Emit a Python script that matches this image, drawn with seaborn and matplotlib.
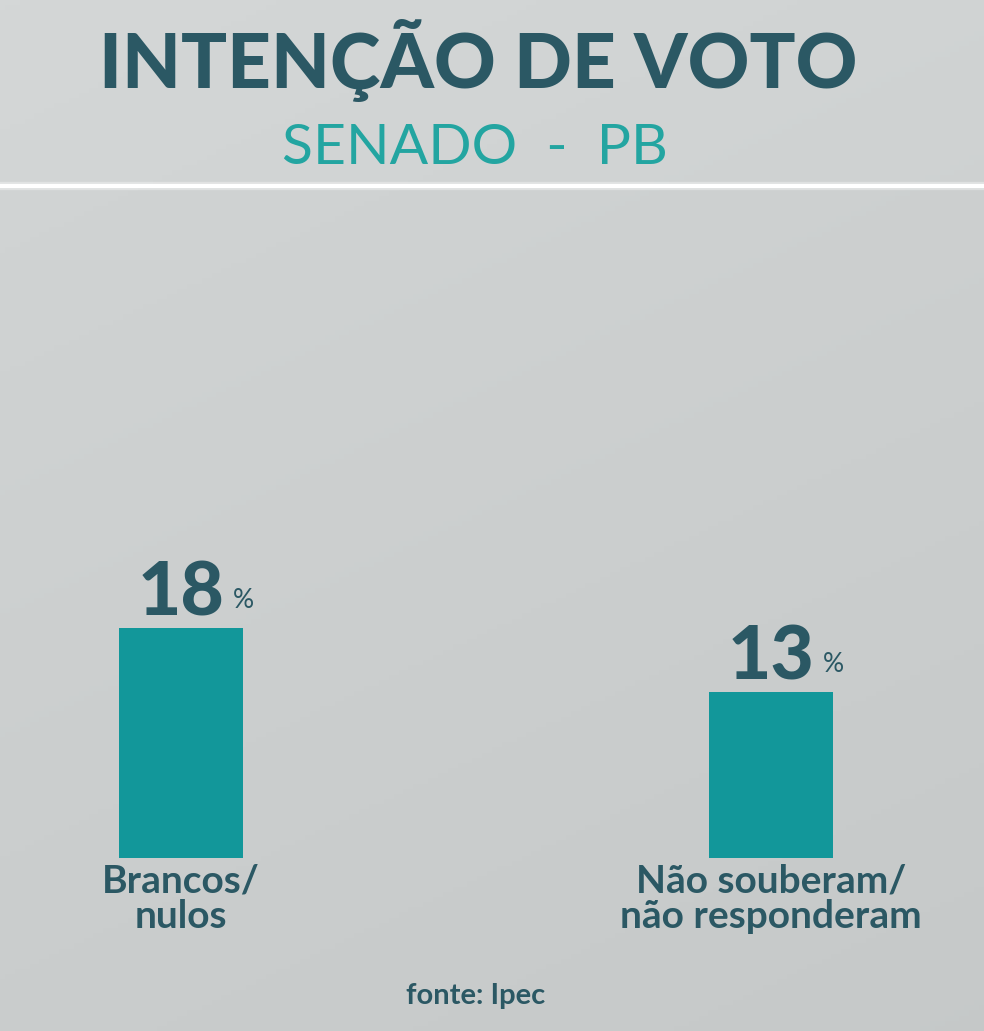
import numpy as np
import matplotlib
matplotlib.use('Agg')
import matplotlib.pyplot as plt
from matplotlib.colors import LinearSegmentedColormap
import seaborn as sns

# === Data ===
categorias = ['Brancos/\nnulos', 'Não souberam/\nnão responderam']
valores = [18, 13]

TITULO = 'INTENÇÃO DE VOTO'
SUBTITULO = 'SENADO  -  PB'
FONTE = 'fonte: Ipec'

# === Colors ===
TEAL_BAR = '#12979a'
DARK = '#2b5864'
TEAL_SUB = '#23a5a1'

sns.set_theme(style='white')
plt.rcParams['font.family'] = ['Lato', 'DejaVu Sans']

W, H = 984, 1031
fig = plt.figure(figsize=(W / 100, H / 100), dpi=100)

# background gradient + white divider
bg = fig.add_axes([0, 0, 1, 1], zorder=0)
cmap = LinearSegmentedColormap.from_list('bg', ['#c3c6c6', '#d2d5d5'])
yy, xx = np.mgrid[0:1:200j, 0:1:200j]
bg.imshow(1 - 0.45 * yy - 0.2 * xx, cmap=cmap, vmin=0.2, vmax=1,
          extent=[0, 1, 0, 1], aspect='auto', origin='upper')
line_y = 1 - 186 / H
bg.axhspan(line_y, 1, color='white', alpha=0.06, lw=0)
bg.axhline(line_y, color='white', lw=6, alpha=0.35)
bg.axhline(line_y, color='white', lw=3)
bg.set_xlim(0, 1)
bg.set_ylim(0, 1)
bg.axis('off')

# === Bars ===
px_per_unit = 590
px_per_pct = 12.8
base_px = 858
ax = fig.add_axes([0, (H - base_px) / H, 1, 660 / H], zorder=1)
ax.patch.set_alpha(0)
sns.barplot(x=categorias, y=valores, color=TEAL_BAR, width=0.21,
            saturation=1, linewidth=0, edgecolor='none', ax=ax)
ax.set_xlim(-181 / px_per_unit, (W - 181) / px_per_unit)
ax.set_ylim(0, 660 / px_per_pct)
sns.despine(ax=ax, left=True, bottom=True)
ax.set_yticks([])
ax.set_xlabel('')
ax.set_ylabel('')
ax.tick_params(axis='x', length=0, pad=4, labelsize=28, labelcolor=DARK)
for lbl in ax.get_xticklabels():
    lbl.set_fontweight('bold')
    lbl.set_linespacing(1.02)

for p, v in zip(ax.patches, valores):
    cx = p.get_x() + p.get_width() / 2
    ax.annotate(f'{v}', (cx, p.get_height()), xytext=(0, 12),
                textcoords='offset pixels', ha='center', va='baseline',
                fontsize=54, fontweight='black', color=DARK)
    ax.annotate('%', (cx, p.get_height()), xytext=(62, 20),
                textcoords='offset pixels', ha='center', va='baseline',
                fontsize=19, color=DARK)

# === Texts ===
fig.text(478 / W, 1 - 88 / H, TITULO, ha='center', va='baseline',
         fontsize=55, fontweight='black', color=DARK)
fig.text(475 / W, 1 - 164 / H, SUBTITULO, ha='center', va='baseline',
         fontsize=41, fontweight='normal', color=TEAL_SUB)
fig.text(476 / W, 1 - 1004 / H, FONTE, ha='center', va='baseline',
         fontsize=21, fontweight='bold', color=DARK)

fig.savefig('out.png', dpi=100)
